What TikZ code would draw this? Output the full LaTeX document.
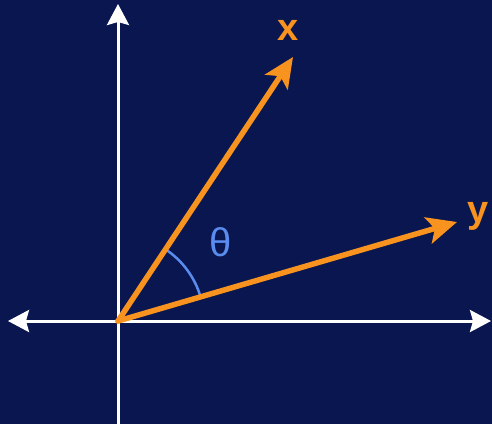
\documentclass[tikz,border=0pt]{standalone}
\usepackage{fontspec}
\setmainfont{Liberation Sans}
\usetikzlibrary{arrows.meta}
\definecolor{navy}{HTML}{0A1650}
\definecolor{vorange}{HTML}{F7931E}
\definecolor{vblue}{HTML}{5A8CF0}
\begin{document}
\begin{tikzpicture}[x=1pt,y=-1pt,
  axis/.style={white,line width=3pt,-{Stealth[length=21pt,width=22pt,inset=3pt]}},
  vec/.style={vorange,line width=5.5pt,line cap=round,-{Stealth[length=30pt,width=27pt,inset=7pt]}},
  lbl/.style={vorange,font=\fontsize{38}{40}\selectfont\bfseries,inner sep=0pt}]
\fill[navy] (0,0) rectangle (492,424);
\useasboundingbox (0,0) rectangle (492,424);
\coordinate (O) at (118,321);
\coordinate (L) at (8,321);
\coordinate (R) at (491,321);
\coordinate (T) at (118,4);
\coordinate (B) at (118,424);
\coordinate (XT) at (293,57);
\coordinate (YT) at (457,222);
\draw[axis] (O) -- (L);
\draw[axis] (O) -- (R);
\draw[axis] (B) -- (T);
\draw[vblue,line width=2.5pt] (O) ++(-56.5:86) arc[start angle=-56.5,end angle=-16.2,radius=86];
\draw[vec] (O) -- (XT);
\draw[vec] (O) -- (YT);
\node[lbl] (xl) at (288,30) {x};
\node[lbl] (yl) at (478,216) {y};
\node[vblue,font=\fontsize{40}{42}\selectfont,inner sep=0pt] (th) at (221,242) {θ};
\end{tikzpicture}
\end{document}
